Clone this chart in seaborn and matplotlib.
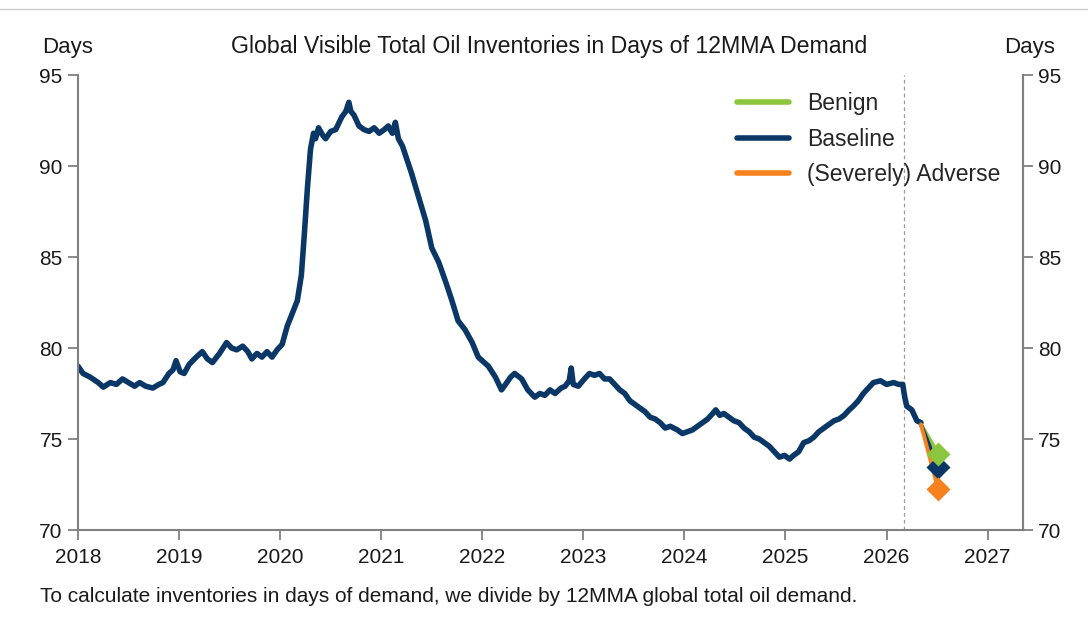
import numpy as np
import pandas as pd
import matplotlib.pyplot as plt
from matplotlib.lines import Line2D
import seaborn as sns

# historical series (decimal year, days of 12MMA demand)
years = [
    2018.00, 2018.05, 2018.12, 2018.20, 2018.25, 2018.32, 2018.38, 2018.44, 2018.50, 2018.56,
    2018.61, 2018.67, 2018.74, 2018.80, 2018.84, 2018.90, 2018.94, 2018.97, 2019.01, 2019.05,
    2019.10, 2019.17, 2019.23, 2019.28, 2019.33, 2019.40, 2019.47, 2019.52, 2019.57, 2019.63,
    2019.68, 2019.72, 2019.77, 2019.82, 2019.87, 2019.92, 2019.97, 2020.02, 2020.07, 2020.12,
    2020.17, 2020.21, 2020.24, 2020.27, 2020.30, 2020.33, 2020.35, 2020.38, 2020.42, 2020.45,
    2020.50, 2020.55, 2020.61, 2020.65, 2020.68, 2020.70, 2020.73, 2020.78, 2020.83, 2020.88,
    2020.93, 2020.98, 2021.03, 2021.07, 2021.11, 2021.14, 2021.17, 2021.21, 2021.24, 2021.30,
    2021.37, 2021.44, 2021.50, 2021.57, 2021.64, 2021.70, 2021.76, 2021.83, 2021.90, 2021.96,
    2022.06, 2022.13, 2022.19, 2022.23, 2022.28, 2022.32, 2022.39, 2022.45, 2022.52, 2022.57,
    2022.62, 2022.67, 2022.72, 2022.78, 2022.82, 2022.86, 2022.88, 2022.90, 2022.95, 2023.01,
    2023.06, 2023.11, 2023.16, 2023.21, 2023.26, 2023.31, 2023.36, 2023.41, 2023.46, 2023.51,
    2023.56, 2023.61, 2023.66, 2023.71, 2023.76, 2023.81, 2023.86, 2023.93, 2023.98, 2024.03,
    2024.08, 2024.13, 2024.18, 2024.23, 2024.28, 2024.31, 2024.35, 2024.39, 2024.44, 2024.49,
    2024.54, 2024.59, 2024.64, 2024.69, 2024.74, 2024.79, 2024.84, 2024.89, 2024.94, 2024.99,
    2025.04, 2025.08, 2025.13, 2025.18, 2025.23, 2025.28, 2025.33, 2025.38, 2025.43, 2025.48,
    2025.53, 2025.58, 2025.63, 2025.67, 2025.72, 2025.77, 2025.82, 2025.87, 2025.94, 2026.00,
    2026.07, 2026.12, 2026.16, 2026.18, 2026.20, 2026.25, 2026.30, 2026.34,
]
days = [
    79.0, 78.6, 78.4, 78.1, 77.85, 78.1, 78.0, 78.3, 78.1, 77.9,
    78.1, 77.9, 77.8, 78.0, 78.1, 78.6, 78.8, 79.3, 78.7, 78.6,
    79.1, 79.5, 79.8, 79.4, 79.2, 79.7, 80.3, 80.0, 79.9, 80.1,
    79.8, 79.4, 79.7, 79.5, 79.8, 79.5, 79.9, 80.2, 81.2, 81.9,
    82.6, 84.0, 86.3, 88.8, 90.9, 91.8, 91.5, 92.1, 91.7, 91.5,
    91.9, 92.0, 92.7, 93.0, 93.5, 93.0, 92.8, 92.2, 92.0, 91.9,
    92.1, 91.8, 92.0, 92.2, 91.8, 92.4, 91.5, 91.1, 90.6, 89.6,
    88.3, 87.0, 85.5, 84.7, 83.6, 82.6, 81.5, 81.0, 80.3, 79.5,
    79.0, 78.4, 77.7, 78.0, 78.4, 78.6, 78.3, 77.7, 77.3, 77.5,
    77.4, 77.7, 77.5, 77.8, 77.9, 78.2, 78.9, 78.0, 77.9, 78.3,
    78.6, 78.5, 78.6, 78.3, 78.3, 78.0, 77.7, 77.5, 77.1, 76.9,
    76.7, 76.5, 76.2, 76.1, 75.9, 75.6, 75.7, 75.5, 75.3, 75.4,
    75.5, 75.7, 75.9, 76.1, 76.4, 76.6, 76.3, 76.4, 76.2, 76.0,
    75.9, 75.6, 75.4, 75.1, 75.0, 74.8, 74.6, 74.3, 74.0, 74.1,
    73.9, 74.1, 74.3, 74.8, 74.9, 75.1, 75.4, 75.6, 75.8, 76.0,
    76.1, 76.3, 76.6, 76.8, 77.1, 77.5, 77.8, 78.1, 78.2, 78.0,
    78.1, 78.0, 78.0, 77.3, 76.8, 76.6, 76.0, 75.9,
]

# scenario projections (start, end)
scen_years = [2026.34, 2026.51]
benign = [75.8, 74.2]
baseline = [75.8, 73.45]
adverse = [75.8, 72.25]
forecast_start = 2026.17

navy = "#0a3766"
green = "#8cc63f"
orange = "#f5821f"
spine_col = "#808080"
text_col = "#1a1a1a"

df = pd.DataFrame({"year": years, "days": days})

sns.set_theme(style="ticks")
plt.rcParams["font.family"] = ["Liberation Sans", "DejaVu Sans"]

fig = plt.figure(figsize=(10.88, 6.24), dpi=100)
ax = fig.add_axes([78 / 1088, 1 - 530 / 624, (1023 - 78) / 1088, (530 - 75) / 624])

sns.lineplot(data=df, x="year", y="days", color=navy, lw=4, ax=ax)

ax.axvline(forecast_start, color="#999999", lw=0.9, ls=(0, (3, 2.5)), zorder=1)

sns.lineplot(x=scen_years, y=benign, color=green, lw=2.8, ax=ax)
sns.lineplot(x=scen_years, y=baseline, color=navy, lw=2.8, ax=ax)
sns.lineplot(x=scen_years, y=adverse, color=orange, lw=2.8, ax=ax)
ax.plot(scen_years[1], baseline[1], marker="D", ms=12, color=navy, mec="none", zorder=5)
ax.plot(scen_years[1], benign[1], marker="D", ms=12, color=green, mec="none", zorder=6)
ax.plot(scen_years[1], adverse[1], marker="D", ms=12, color=orange, mec="none", zorder=6)

ax.set_xlim(2018, 2027.35)
ax.set_ylim(70, 95)
ax.set_xticks(range(2018, 2028))
ax.set_yticks(range(70, 96, 5))
ax.set_xlabel("")
ax.set_ylabel("")

ax2 = ax.twinx()
ax2.set_ylim(70, 95)
ax2.set_yticks(range(70, 96, 5))

for a in (ax, ax2):
    for s in a.spines.values():
        s.set_color(spine_col)
        s.set_linewidth(1.5)
    a.spines["top"].set_visible(False)
    a.tick_params(colors=spine_col, labelcolor=text_col, labelsize=15, length=7, width=1.3, pad=4)
ax.tick_params(axis="x", pad=6)
ax2.spines["left"].set_visible(False)
ax2.spines["bottom"].set_visible(False)

handles = [Line2D([], [], color=c, lw=4) for c in (green, navy, orange)]
ax.legend(handles, ["Benign", "Baseline", "(Severely) Adverse"], loc="upper left",
          bbox_to_anchor=(737 / 1088, 1 - 92 / 624), bbox_transform=fig.transFigure,
          frameon=False, fontsize=16.5, handlelength=2.25, handletextpad=0.8,
          labelspacing=0.55, borderpad=0, borderaxespad=0)

fig.text(0.505, 1 - 47 / 624, "Global Visible Total Oil Inventories in Days of 12MMA Demand",
         ha="center", va="center", fontsize=16.7, color=text_col)
fig.text(68 / 1088, 1 - 47 / 624, "Days", ha="center", va="center", fontsize=16, color=text_col)
fig.text(1030 / 1088, 1 - 47 / 624, "Days", ha="center", va="center", fontsize=16, color=text_col)
fig.text(40 / 1088, 1 - 597 / 624,
         "To calculate inventories in days of demand, we divide by 12MMA global total oil demand.",
         ha="left", va="center", fontsize=15, color=text_col)

# thin grey rule at the top of the panel
fig.add_artist(Line2D([0, 1], [1 - 9 / 624] * 2, color="#cccccc", lw=1, transform=fig.transFigure))

fig.savefig("out.png", dpi=100, facecolor="white")
